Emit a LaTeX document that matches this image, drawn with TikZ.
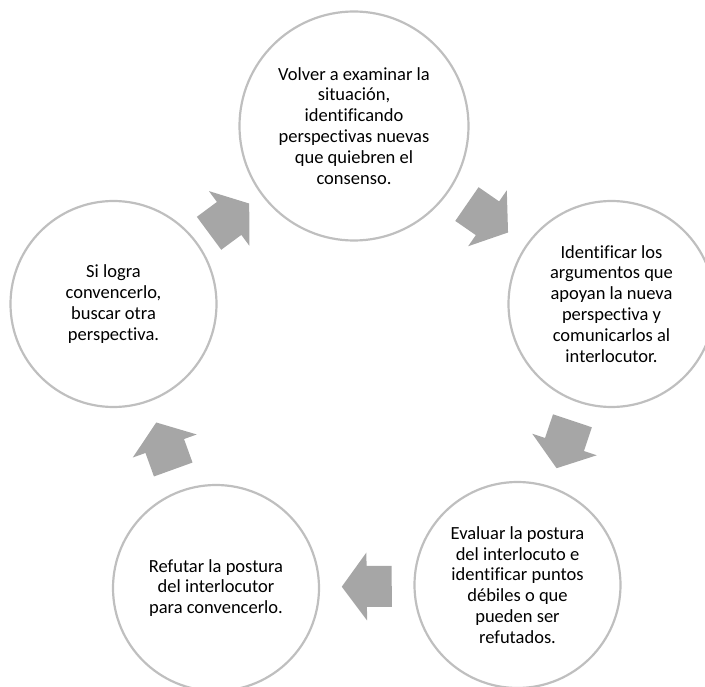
\documentclass[tikz,border=0pt]{standalone}
\usepackage{fontspec}
\setmainfont{Carlito}[Ligatures=NoCommon]
\usetikzlibrary{calc}
\definecolor{circgray}{HTML}{BFBFBF}
\definecolor{arrowgray}{HTML}{A6A6A6}
\tikzset{
  stage/.style={circle, draw=circgray, line width=2.2pt, inner sep=0pt,
    align=center, text=black, font=\fontsize{18.5}{20.9}\selectfont},
  bigstage/.style={stage, minimum size=229pt},
  smallstage/.style={stage, minimum size=206pt},
  blockarrow/.pic={
    \fill[arrowgray] (-25,-20.5) -- (0,-20.5) -- (0,-34) -- (25,0) -- (0,34) -- (0,20.5) -- (-25,20.5) -- cycle;
  }
}
\begin{document}
\begin{tikzpicture}[x=1pt,y=-1pt]
\useasboundingbox (0,0) rectangle (705,687);
\clip (0,0) rectangle (705,687);
\node[bigstage] (top) at (354,126) {Volver a examinar la\\situación,\\identificando\\perspectivas nuevas\\que quiebren el\\consenso.};
\node[smallstage] (right) at (611.5,304) {Identificar los\\argumentos que\\apoyan la nueva\\perspectiva y\\comunicarlos al\\interlocutor.};
\node[smallstage] (br) at (517.5,585) {Evaluar la postura\\del interlocuto e\\identificar puntos\\débiles o que\\pueden ser\\refutados.};
\node[smallstage] (bl) at (216,588) {Refutar la postura\\del interlocutor\\para convencerlo.};
\node[smallstage] (left) at (113.5,304) {Si logra\\convencerlo,\\buscar otra\\perspectiva.};
% gap midpoints
\path (top) -- coordinate[pos=0.5] (m1) (right);
\path (right) -- coordinate[pos=0.5] (m2) (br);
\path (br) -- coordinate[pos=0.5] (m3) (bl);
\path (bl) -- coordinate[pos=0.5] (m4) (left);
\path (left) -- coordinate[pos=0.5] (m5) (top);
% block arrows
\path let \p1=($(right.center)-(top.center)$), \n1={atan2(\y1,\x1)} in pic[rotate=\n1] at (m1) {blockarrow};
\path let \p1=($(br.center)-(right.center)$), \n1={atan2(\y1,\x1)} in pic[rotate=\n1] at (m2) {blockarrow};
\path let \p1=($(bl.center)-(br.center)$), \n1={atan2(\y1,\x1)} in pic[rotate=\n1] at (m3) {blockarrow};
\path let \p1=($(left.center)-(bl.center)$), \n1={atan2(\y1,\x1)} in pic[rotate=\n1] at (m4) {blockarrow};
\path let \p1=($(top.center)-(left.center)$), \n1={atan2(\y1,\x1)} in pic[rotate=\n1] at (m5) {blockarrow};
\end{tikzpicture}
\end{document}
